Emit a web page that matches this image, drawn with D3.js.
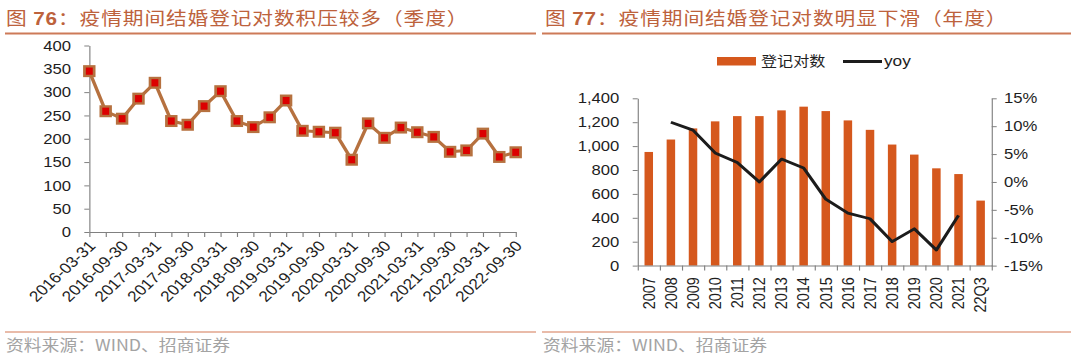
<!DOCTYPE html>
<html><head><meta charset="utf-8">
<script src="https://cdn.jsdelivr.net/npm/d3@7"></script>
<style>
html,body{margin:0;padding:0;background:#fff;}
svg{display:block;background:#fff;}
text{font-family:"Liberation Sans",Arial,"Noto Sans CJK SC",sans-serif;}
.cjk{font-family:"Noto Sans CJK SC","Liberation Sans",sans-serif;}
</style></head><body>
<svg id="c" width="1080" height="355"></svg>
<script>
// ---- data ----
const quarters = ["2016-03-31","2016-06-30","2016-09-30","2016-12-31",
  "2017-03-31","2017-06-30","2017-09-30","2017-12-31",
  "2018-03-31","2018-06-30","2018-09-30","2018-12-31",
  "2019-03-31","2019-06-30","2019-09-30","2019-12-31",
  "2020-03-31","2020-06-30","2020-09-30","2020-12-31",
  "2021-03-31","2021-06-30","2021-09-30","2021-12-31",
  "2022-03-31","2022-06-30","2022-09-30"];
const quarterlyCount = [345,259,243,286,320,238,230,270,302,238,225,246,282,217,215,213,155,233,202,224,214,204,172,175,211,161,171];
const leftTicks = [0,50,100,150,200,250,300,350,400];

const years = ["2007","2008","2009","2010","2011","2012","2013","2014","2015","2016","2017","2018","2019","2020","2021","22Q3"];
const annualCount = [951,1055,1148,1207,1251,1251,1299,1330,1293,1215,1136,1013,929,814,766,544];
const yoy = [null,10.7,9.3,5.2,3.5,0.0,4.1,2.5,-3.1,-5.6,-6.6,-10.7,-8.4,-12.2,-6.0,null];
const countTicks = [0,200,400,600,800,1000,1200,1400];
const yoyTicks = [-15,-10,-5,0,5,10,15];

const title1 = ["图 ","76","：疫情期间结婚登记对数积压较多（季度）"];
const title2 = ["图 ","77","：疫情期间结婚登记对数明显下滑（年度）"];
const sourceText = "资料来源：WIND、招商证券";
const legendNames = ["登记对数","yoy"];

// ---- drawing ----
const S = 1.15;              // horizontal stretch of the reference
const X = v => v / S;
const titleColor = "#bd623c", ruleColor = "#cd7a58", axisColor = "#808080", txtColor = "#1e1e1e";
const barColor = "#d5581d", lineBrown = "#b6713f", markerRed = "#dc0000";

const svg = d3.select("#c");
const root = svg.append("g").attr("transform", `scale(${S},1)`);

function title(parts, x) {
  const t = root.append("text").attr("class","cjk").attr("x", X(x)).attr("y", 25)
    .attr("fill", titleColor).style("font-size","18px").style("letter-spacing","0.8px");
  t.append("tspan").text(parts[0]);
  t.append("tspan").style("font-family","'Liberation Sans',Arial").style("font-weight","bold").text(parts[1]);
  t.append("tspan").text(parts[2]);
}
title(title1, 6);
title(title2, 545);

function rule(x1, x2, y, w, c) {
  root.append("line").attr("x1",X(x1)).attr("x2",X(x2)).attr("y1",y).attr("y2",y)
    .attr("stroke",c).attr("stroke-width",w);
}
rule(5,536,33.5,2.2,ruleColor); rule(542,1071,33.5,2.2,ruleColor);
rule(5,536,332,1.5,"#e2a58c"); rule(542,1071,332,1.5,"#e2a58c");

[6,543].forEach(x => root.append("text").attr("class","cjk").attr("x",X(x)).attr("y",351)
  .attr("fill","#a3a3a3").style("font-size","15.5px").text(sourceText));

function styleAxis(g) {
  g.selectAll("path.domain").attr("stroke", axisColor).attr("stroke-width",1);
  g.selectAll(".tick line").attr("stroke", axisColor).attr("stroke-width",1);
  g.selectAll("text").attr("fill", txtColor).style("font-size","14.5px")
    .style("font-family","'Liberation Sans',Arial");
}

// ---- left chart ----
const xL = d3.scalePoint().domain(quarters).range([X(89.3), X(515.7)]);
const yL = d3.scaleLinear().domain([0,400]).range([232,45.5]);

root.append("g").attr("transform",`translate(${X(89.3)},0)`)
  .call(d3.axisLeft(yL).tickValues(leftTicks).tickSize(X(5)).tickSizeOuter(0).tickPadding(11.6))
  .call(styleAxis);

const gxL = root.append("g").attr("transform",`translate(0,${yL(0)})`)
  .call(d3.axisBottom(xL).tickSize(5).tickSizeOuter(0).tickFormat((d,i)=> i%2===0 ? d : ""))
  .call(styleAxis);
gxL.selectAll(".tick text").attr("x",0).attr("y",0).attr("dy","0.35em").style("font-size","15px")
  .attr("text-anchor","end").attr("transform","translate(2,11) rotate(-47)");

root.append("path").datum(quarterlyCount)
  .attr("fill","none").attr("stroke",lineBrown).attr("stroke-width",3).attr("stroke-linejoin","round")
  .attr("d", d3.line().x((d,i)=>xL(quarters[i])).y(d=>yL(d)));

const mw = 8.4, mh = 9.6;
root.selectAll("rect.mk").data(quarterlyCount).join("rect").attr("class","mk")
  .attr("x",(d,i)=>xL(quarters[i]) - mw/2).attr("y",d=>yL(d)-mh/2)
  .attr("width",mw).attr("height",mh)
  .attr("fill",markerRed).attr("stroke",lineBrown).attr("stroke-width",2.4);

// ---- right chart ----
const xR = d3.scaleBand().domain(years).range([X(637.7), X(991.7)]);
const xRb = d3.scaleLinear().domain([0, years.length]).range(xR.range());
const yR = d3.scaleLinear().domain([0,1400]).range([265.6,98.3]);
const yY = d3.scaleLinear().domain([-15,15]).range([265.6,98.3]);

const barW = X(8.5);
root.selectAll("rect.bar").data(annualCount).join("rect").attr("class","bar")
  .attr("x",(d,i)=>xR(years[i]) + xR.bandwidth()/2 - barW/2)
  .attr("y",d=>yR(d)).attr("width",barW).attr("height",d=>yR(0)-yR(d))
  .attr("fill",barColor);

root.append("g").attr("transform",`translate(${X(637.7)},0)`)
  .call(d3.axisLeft(yR).tickValues(countTicks).tickFormat(d3.format(",")).tickSize(X(5)).tickSizeOuter(0).tickPadding(11.6))
  .call(styleAxis);
root.append("g").attr("transform",`translate(${X(991.7)},0)`)
  .call(d3.axisRight(yY).tickValues(yoyTicks).tickFormat(d=>d+"%").tickSize(X(5)).tickSizeOuter(0).tickPadding(6.3))
  .call(styleAxis);
root.append("g").attr("transform",`translate(0,${yR(0)})`)
  .call(d3.axisBottom(xRb).tickValues(d3.range(years.length+1)).tickSize(5).tickSizeOuter(0).tickFormat(""))
  .call(styleAxis);
const gxR = root.append("g").attr("transform",`translate(0,${yR(0)})`)
  .call(d3.axisBottom(xR).tickSize(0).tickSizeOuter(0))
  .call(styleAxis);
gxR.select("path.domain").remove();
gxR.selectAll(".tick text").attr("x",-11.5).attr("y",0).attr("dy","0.35em")
  .attr("text-anchor","end").attr("transform","rotate(-90)");

root.append("path").datum(yoy)
  .attr("fill","none").attr("stroke","#1c1c1c").attr("stroke-width",2.8).attr("stroke-linejoin","round")
  .attr("d", d3.line().defined(d=>d!=null).x((d,i)=>xR(years[i])+xR.bandwidth()/2).y(d=>yY(d)));

// legend
root.append("rect").attr("x",X(717)).attr("y",57).attr("width",X(39)).attr("height",8.5).attr("fill",barColor);
root.append("text").attr("class","cjk").attr("x",X(761)).attr("y",61).attr("dy","0.35em")
  .attr("fill",txtColor).style("font-size","14px").text(legendNames[0]);
root.append("line").attr("x1",X(843)).attr("x2",X(882)).attr("y1",61.5).attr("y2",61.5)
  .attr("stroke","#1c1c1c").attr("stroke-width",3);
root.append("text").attr("x",X(884)).attr("y",61).attr("dy","0.35em")
  .attr("fill",txtColor).style("font-size","15px").text(legendNames[1]);
</script>
</body></html>
